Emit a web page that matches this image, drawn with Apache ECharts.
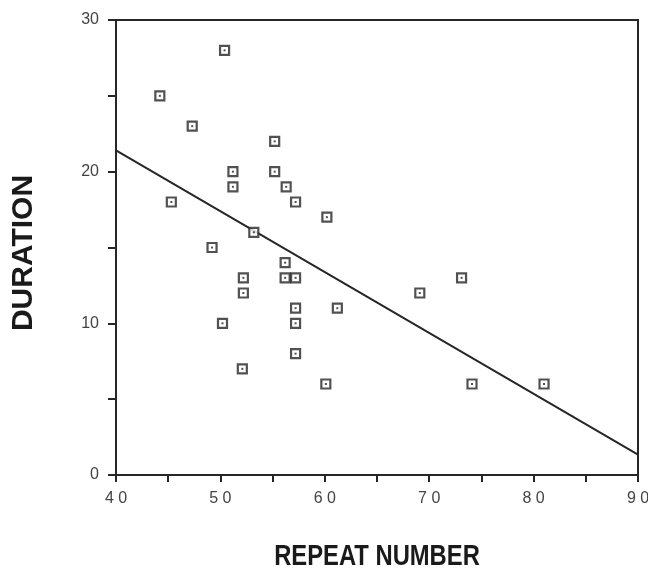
<!DOCTYPE html>
<html><head><meta charset="utf-8">
<script src="https://cdn.jsdelivr.net/npm/echarts@6/dist/echarts.min.js"></script>
<style>html,body{margin:0;padding:0;background:#fff}#c{width:648px;height:570px}</style>
</head><body><div id="c"></div>
<script>
const repeatNumber = [44.2,50.4,47.3,45.3,55.2,51.2,51.2,55.2,56.3,57.2,60.2,49.2,53.2,56.2,52.2,56.2,57.2,52.2,57.2,61.2,50.2,57.2,57.2,52.1,60.1,69.1,73.1,74.1,81.0];
const duration     = [25,  28,  23,  18,  22,  20,  19,  20,  19,  18,  17,  15,  16,  14,  13,  13,  13,  12,  11,  11,  10,  10,  8,   7,   6,   12,  13,  6,   6];
const fitX = [40, 90];
const fitY = [21.4, 1.35];
const xTicks = [40,50,60,70,80,90];
const yTicks = [0,10,20,30];

const pts = repeatNumber.map((x,i)=>[x,duration[i]]);
const fit = fitX.map((x,i)=>[x,fitY[i]]);
const ink = '#262626';
const chart = echarts.init(document.getElementById('c'));
chart.setOption({
  animation:false,
  grid:{left:116,right:10,top:20,bottom:95,containLabel:false,outerBoundsMode:'none',
    show:true,borderColor:ink,borderWidth:2,backgroundColor:'transparent'},
  graphic:[
    {type:'text',x:377,y:557,scaleX:0.82,
      style:{text:'REPEAT NUMBER',font:'bold 29px "Liberation Sans", Arial, sans-serif',fill:'#1a1a1a',
        align:'center',verticalAlign:'middle'}},
    {type:'text',x:24,y:253,rotation:Math.PI/2,
      style:{text:'DURATION',font:'bold 30px "Liberation Sans", Arial, sans-serif',fill:'#1a1a1a',
        align:'center',verticalAlign:'middle'}}
  ],
  xAxis:{type:'value',min:40,max:90,interval:5,
    axisLine:{show:true,lineStyle:{color:ink,width:2}},
    axisTick:{show:true,length:7,inside:false,lineStyle:{color:ink,width:2}},
    splitLine:{show:false},
    axisLabel:{margin:16,color:'#444',fontFamily:'Liberation Sans',fontSize:16,
      formatter:v=>xTicks.includes(v)?String(v).split('').join(' '):''}},
  yAxis:{type:'value',min:0,max:30,interval:5,
    axisLine:{show:true,lineStyle:{color:ink,width:2}},
    axisTick:{show:true,length:8,lineStyle:{color:ink,width:2}},
    splitLine:{show:false},
    axisLabel:{margin:17,color:'#444',fontFamily:'Liberation Sans',fontSize:16,
      formatter:v=>yTicks.includes(v)?String(v):''}},
  series:[
    {type:'line',data:fit,symbol:'none',lineStyle:{color:ink,width:2},z:1},
    {type:'scatter',data:pts,symbol:'rect',symbolSize:9,
      itemStyle:{color:'#fff',borderColor:ink,borderWidth:2.2},z:2},
    {type:'scatter',data:pts,symbol:'rect',symbolSize:2,itemStyle:{color:ink},z:3}
  ]
});
</script></body></html>
